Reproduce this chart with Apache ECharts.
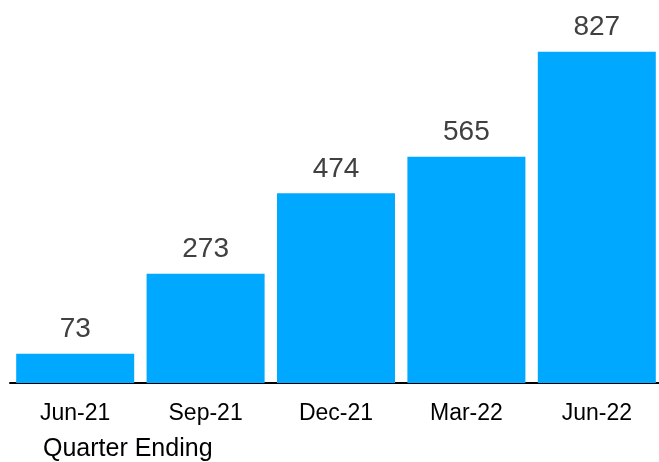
<!DOCTYPE html>
<html>
<head>
<meta charset="utf-8">
<script src="https://cdn.jsdelivr.net/npm/echarts@6/dist/echarts.min.js"></script>
<style>
html, body { margin: 0; padding: 0; background: #fff; }
#chart { width: 659px; height: 462px; }
</style>
</head>
<body>
<div id="chart"></div>
<script>
var quarters = ['Jun-21', 'Sep-21', 'Dec-21', 'Mar-22', 'Jun-22'];
var values = [73, 273, 474, 565, 827];
var axisTitle = 'Quarter Ending';

var myChart = echarts.init(document.getElementById('chart'));
var option = {
	animation: false,
	title: {
		text: axisTitle,
		left: 38,
		top: 432,
		textStyle: {
			fontFamily: 'Liberation Sans, Arial, sans-serif',
			fontSize: 25,
			fontWeight: 'normal',
			color: '#000'
		}
	},
	grid: {
		left: 10,
		width: 652,
		top: 22.5,
		bottom: 79,
		outerBoundsMode: 'none'
	},
	xAxis: {
		type: 'category',
		data: quarters,
		axisLine: {
			show: true,
			lineStyle: { color: '#000', width: 2 }
		},
		axisTick: { show: false },
		axisLabel: {
			margin: 19,
			fontFamily: 'Liberation Sans, Arial, sans-serif',
			fontSize: 23,
			color: '#000'
		}
	},
	yAxis: {
		type: 'value',
		min: 0,
		max: 900,
		show: false,
		splitLine: { show: false }
	},
	series: [{
		type: 'bar',
		data: values,
		barCategoryGap: '9.5%',
		itemStyle: { color: '#00a8ff' },
		label: {
			show: true,
			position: 'top',
			distance: 10,
			fontFamily: 'Liberation Sans, Arial, sans-serif',
			fontSize: 28,
			color: '#404040'
		}
	}]
};
myChart.setOption(option);
</script>
</body>
</html>
